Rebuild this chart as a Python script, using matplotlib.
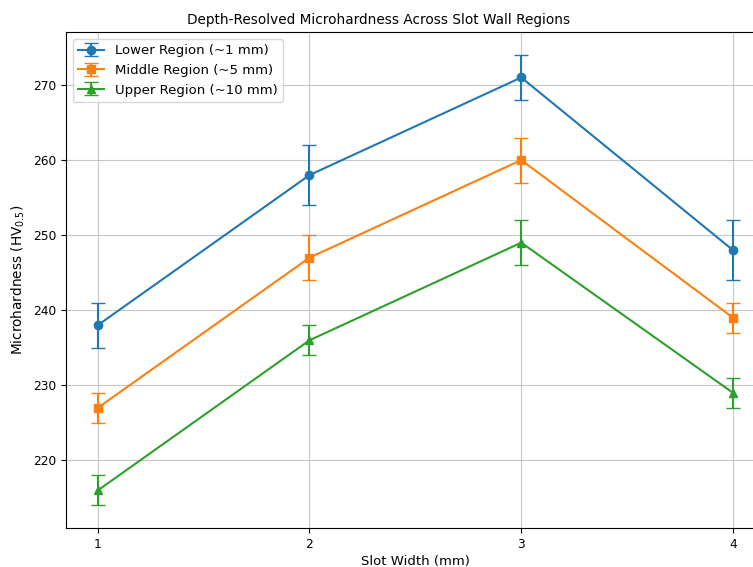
import numpy as np
import matplotlib.pyplot as plt

# slot widths (mm)
slot_width = [1, 2, 3, 4]

# mean microhardness per depth region
lower_hv = [238, 258, 271, 248]
middle_hv = [227, 247, 260, 239]
upper_hv = [216, 236, 249, 229]

# standard deviations
lower_err = [3, 4, 3, 4]
middle_err = [2, 3, 3, 2]
upper_err = [2, 2, 3, 2]

labels = ["Lower Region (~1 mm)", "Middle Region (~5 mm)", "Upper Region (~10 mm)"]

fig = plt.figure(figsize=(7.53, 5.67), dpi=100)
# axes run a bit past the right edge, like the cropped original
ax = fig.add_axes([0.0876, 0.0688, 0.928, 0.874])

series = [(lower_hv, lower_err, "o", "#1f77b4"),
          (middle_hv, middle_err, "s", "#ff7f0e"),
          (upper_hv, upper_err, "^", "#2ca02c")]

for (vals, err, mk, col), lab in zip(series, labels):
    ax.errorbar(slot_width, vals, yerr=err, fmt="-" + mk, color=col,
                capsize=5, markersize=6, linewidth=1.5, label=lab)

ax.set_xticks(slot_width)
ax.set_title("Depth-Resolved Microhardness Across Slot Wall Regions",
             fontsize=9.8, x=0.173, ha="left")
ax.set_xlabel("Slot Width (mm)", fontsize=9.5, labelpad=3)
ax.set_ylabel("Microhardness (HV$_{0.5}$)", fontsize=9.8)
ax.tick_params(labelsize=8.8)
ax.grid(True, color="#b0b0b0", alpha=0.7)
ax.legend(loc="upper left", fontsize=9.5)

fig.savefig("out.png", dpi=100)
